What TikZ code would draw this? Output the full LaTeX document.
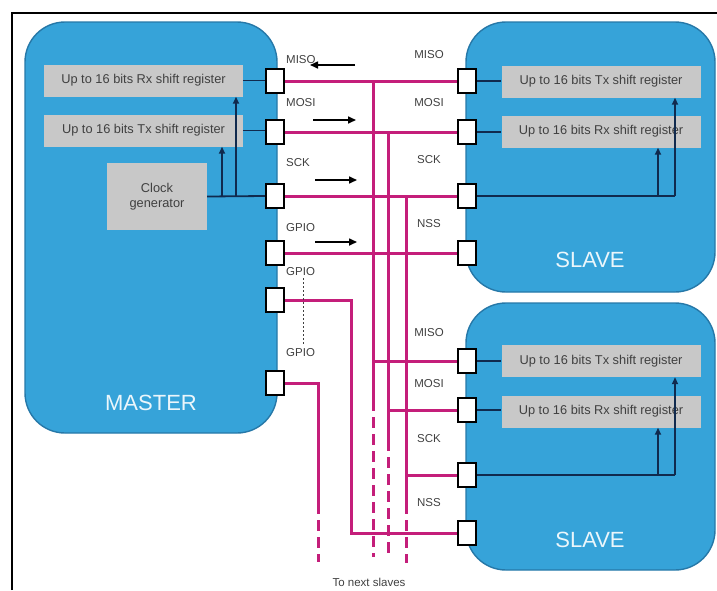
\documentclass[tikz,border=0pt]{standalone}
\usepackage{fontspec}
\setmainfont{Liberation Sans}
\usepackage{xcolor}
\definecolor{spiBlue}{RGB}{54, 163, 217}
\definecolor{spiEdge}{RGB}{38, 120, 168}
\definecolor{spiGray}{RGB}{200, 200, 200}
\definecolor{spiBus}{RGB}{196, 30, 122}
\definecolor{spiNavy}{RGB}{16, 42, 78}
\definecolor{spiText}{RGB}{64, 64, 64}
\usepackage{tikz}
\usetikzlibrary{
    arrows.meta,
    positioning,
    calc
}

\begin{document}
\begin{tikzpicture}[
    x=1pt, y=-1pt,
    unitBox/.style={
        rectangle, rounded corners=40pt,
        draw=spiEdge, line width=1.4pt,
        fill=spiBlue, inner sep=0pt
    },
    regBox/.style={
        rectangle, fill=spiGray, text=spiText,
        font=\fontsize{12.8}{14.5}\selectfont, align=center,
        inner sep=0pt, minimum width=199pt, minimum height=32pt
    },
    portBox/.style={
        rectangle, draw=black, line width=2.4pt, fill=white,
        inner sep=0pt, minimum width=18pt, minimum height=24pt
    },
    pinLabel/.style={
        font=\fontsize{11.5}{13}\selectfont, text=spiText, inner sep=0pt
    },
    unitLabel/.style={
        font=\fontsize{22}{24}\selectfont, text=white!90!spiBlue, inner sep=0pt
    },
    busLine/.style={draw=spiBus, line width=3pt},
    busDash/.style={busLine, dash pattern=on 11pt off 6pt},
    clkLine/.style={draw=spiNavy, line width=1.8pt},
    clkArrow/.style={clkLine, -{Triangle[length=7pt,width=6pt]}},
    dirArrow/.style={draw=black, line width=1.6pt, -{Triangle[length=8pt,width=7pt]}},
    dotLine/.style={draw=spiText, line width=1pt, dash pattern=on 2pt off 2pt}
]
    \useasboundingbox (0,0) rectangle (717,590);

    % Frame
    \draw[line width=1.5pt] (12,590) -- (12,13) -- (717,13);

    % Units
    \node[unitBox, minimum width=252pt, minimum height=411pt] (master) at (151,227.5) {};
    \node[unitBox, minimum width=249pt, minimum height=270pt] (slaveA) at (590.5,157) {};
    \node[unitBox, minimum width=249pt, minimum height=267pt] (slaveB) at (590.5,436.5) {};

    \node[unitLabel] (masterTxt) at (151,403) {MASTER};
    \node[unitLabel] (slaveATxt) at (590,260) {SLAVE};
    \node[unitLabel] (slaveBTxt) at (590,540) {SLAVE};

    % Master registers
    \node[regBox] (rxM) at (143.5,80.5) {Up to 16 bits Rx shift register};
    \node[regBox] (txM) at (143.5,130.5) {Up to 16 bits Tx shift register};
    \node[regBox, minimum width=100pt, minimum height=67pt] (clkGen) at (157,196.5) {Clock\\generator};

    % Slave registers
    \node[regBox] (txA) at (601,81.5) {Up to 16 bits Tx shift register};
    \node[regBox] (rxA) at (601,131.5) {Up to 16 bits Rx shift register};
    \node[regBox] (txB) at (601,361) {Up to 16 bits Tx shift register};
    \node[regBox] (rxB) at (601,411.5) {Up to 16 bits Rx shift register};

    % Ports
    \node[portBox] (mMiso) at (275,81) {};
    \node[portBox] (mMosi) at (275,132) {};
    \node[portBox] (mSck) at (275,196) {};
    \node[portBox] (mGpioA) at (275,253) {};
    \node[portBox] (mGpioB) at (275,300) {};
    \node[portBox] (mGpioC) at (275,383) {};

    \node[portBox] (sAMiso) at (467,81) {};
    \node[portBox] (sAMosi) at (467,132) {};
    \node[portBox] (sASck) at (467,196) {};
    \node[portBox] (sANss) at (467,253) {};

    \node[portBox] (sBMiso) at (467,361) {};
    \node[portBox] (sBMosi) at (467,410) {};
    \node[portBox] (sBSck) at (467,475) {};
    \node[portBox] (sBNss) at (467,533) {};

    % Pin labels
    \node[pinLabel, anchor=west] (lMiso) at (286,60) {MISO};
    \node[pinLabel, anchor=west] (lMosi) at (286,103) {MOSI};
    \node[pinLabel, anchor=west] (lSck) at (286,163) {SCK};
    \node[pinLabel, anchor=west] (lGpioA) at (286,228) {GPIO};
    \node[pinLabel, anchor=west] (lGpioB) at (286,272) {GPIO};
    \node[pinLabel, anchor=west] (lGpioC) at (286,353) {GPIO};

    \node[pinLabel] (lAMiso) at (429,55) {MISO};
    \node[pinLabel] (lAMosi) at (429,103) {MOSI};
    \node[pinLabel] (lASck) at (429,160) {SCK};
    \node[pinLabel] (lANss) at (429,224) {NSS};

    \node[pinLabel] (lBMiso) at (429,333) {MISO};
    \node[pinLabel] (lBMosi) at (429,384) {MOSI};
    \node[pinLabel] (lBSck) at (429,439) {SCK};
    \node[pinLabel] (lBNss) at (429,503) {NSS};

    \node[pinLabel] (nextTxt) at (369,582) {To next slaves};

    % Bus points
    \coordinate (misoEnd) at (373,400);
    \coordinate (misoTail) at (373,557);
    \coordinate (mosiEnd) at (388,440);
    \coordinate (mosiTail) at (388,557);
    \coordinate (sckEnd) at (406,503);
    \coordinate (sckTail) at (406,563);
    \coordinate (nssDrop) at (351,533);
    \coordinate (gpioEnd) at (318,503);
    \coordinate (gpioTail) at (318,562);

    % Bus lines
    \draw[busLine] (mMiso.east) -- (sAMiso.west);
    \draw[busLine] (mMosi.east) -- (sAMosi.west);
    \draw[busLine] (mSck.east) -- (sASck.west);
    \draw[busLine] (mGpioA.east) -- (sANss.west);

    \draw[busLine] (mMiso.east -| misoEnd) -- (misoEnd);
    \draw[busDash] (misoEnd) -- (misoTail);
    \draw[busLine] (mMosi.east -| mosiEnd) -- (mosiEnd);
    \draw[busDash] (mosiEnd) -- (mosiTail);
    \draw[busLine] (mSck.east -| sckEnd) -- (sckEnd);
    \draw[busDash] (sckEnd) -- (sckTail);

    \draw[busLine] (sBMiso.west -| misoEnd) -- (sBMiso.west);
    \draw[busLine] (sBMosi.west -| mosiEnd) -- (sBMosi.west);
    \draw[busLine] (sBSck.west -| sckEnd) -- (sBSck.west);

    \draw[busLine] (mGpioB.east) -| (nssDrop) -- (sBNss.west);
    \draw[busLine] (mGpioC.east) -| (gpioEnd);
    \draw[busDash] (gpioEnd) -- (gpioTail);

    \draw[dotLine] (lGpioB.south) ++(3,2) -- ($(lGpioC.north)+(3,-4)$);

    % Direction arrows
    \draw[dirArrow] (355,65) -- (310,65);
    \draw[dirArrow] (313,120) -- (356,120);
    \draw[dirArrow] (315,180) -- (357,180);
    \draw[dirArrow] (315,242) -- (357,242);

    % Master internal links
    \coordinate (txTapM) at (222,196);
    \coordinate (rxTapM) at (236,196);
    \draw[clkLine] (rxM.east) -- (rxM.east -| mMiso.west);
    \draw[clkLine] (txM.east) -- (txM.east -| mMosi.west);
    \draw[clkLine] (clkGen.east) -- (mSck.west);
    \draw[clkArrow] (txTapM) -- (txTapM |- txM.south);
    \draw[clkArrow] (rxTapM) -- (rxTapM |- rxM.south);

    % Slave internal links
    \coordinate (rxTapA) at (658,196);
    \coordinate (txTapA) at (675,196);
    \draw[clkLine] (sAMiso.east) -- (sAMiso.east -| txA.west);
    \draw[clkLine] (sAMosi.east) -- (sAMosi.east -| rxA.west);
    \draw[clkLine] (sASck.east) -- (txTapA);
    \draw[clkArrow] (rxTapA) -- (rxTapA |- rxA.south);
    \draw[clkArrow] (txTapA) -- (txTapA |- txA.south);

    \coordinate (rxTapB) at (658,475);
    \coordinate (txTapB) at (675,475);
    \draw[clkLine] (sBMiso.east) -- (sBMiso.east -| txB.west);
    \draw[clkLine] (sBMosi.east) -- (sBMosi.east -| rxB.west);
    \draw[clkLine] (sBSck.east) -- (txTapB);
    \draw[clkArrow] (rxTapB) -- (rxTapB |- rxB.south);
    \draw[clkArrow] (txTapB) -- (txTapB |- txB.south);

\end{tikzpicture}
\end{document}
